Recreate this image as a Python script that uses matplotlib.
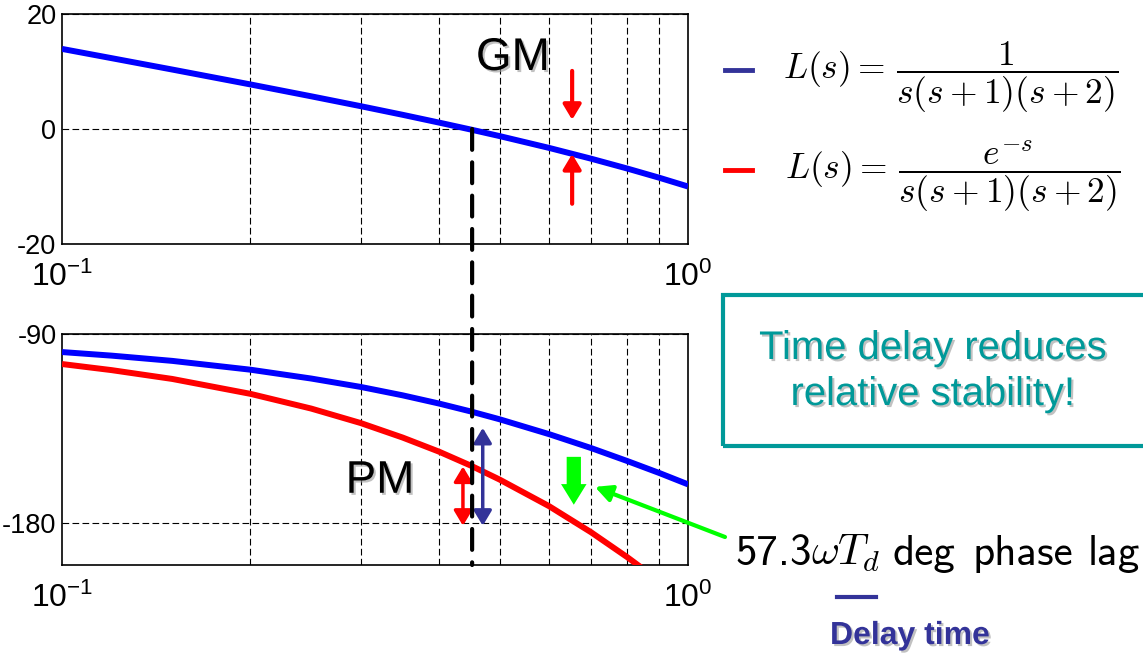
import numpy as np
import matplotlib
matplotlib.use('Agg')
import matplotlib.pyplot as plt
import matplotlib.patheffects as pe
from matplotlib.patches import ConnectionPatch, Rectangle
from matplotlib.lines import Line2D
from matplotlib.ticker import FixedLocator, FixedFormatter, NullFormatter

plt.rcParams['font.family'] = ['Liberation Sans', 'DejaVu Sans']
plt.rcParams['mathtext.fontset'] = 'custom'
plt.rcParams['mathtext.rm'] = 'Liberation Sans'
plt.rcParams['mathtext.it'] = 'Liberation Sans:italic'
plt.rcParams['mathtext.bf'] = 'Liberation Sans:bold'

# ---------------- data ----------------
freq = [0.1, 0.12, 0.15, 0.2, 0.25, 0.3, 0.35, 0.4, 0.45, 0.5, 0.6, 0.7, 0.8, 0.9, 1.0]
mag_db = [13.93, 12.32, 10.34, 7.75, 5.69, 3.97, 2.47, 1.12, -0.10, -1.23,
          -3.29, -5.16, -6.88, -8.48, -10.0]
phase_nodelay = [-98.6, -100.3, -102.8, -107.0, -111.2, -115.2, -119.2, -123.1,
                 -126.9, -130.6, -137.7, -144.3, -150.5, -156.2, -161.6]
freq_delay = [0.1, 0.12, 0.15, 0.2, 0.25, 0.3, 0.35, 0.4, 0.45, 0.5, 0.6, 0.7, 0.8, 0.85, 0.9]
phase_delay = [-104.3, -107.2, -111.4, -118.5, -125.5, -132.4, -139.3, -146.0,
               -152.7, -159.3, -172.0, -184.4, -196.3, -202.1, -207.8]

xticks = [0.1, 1.0]
xticklabels = [r'$10^{-1}$', r'$10^{0}$']
minor_grid = [0.2, 0.3, 0.4, 0.5, 0.6, 0.7, 0.8, 0.9]
mag_ticks = [-20, 0, 20]
phase_ticks = [-180, -90]

w_gc = 0.452          # gain crossover frequency
w_pc = 0.653          # phase crossover (delayed system)
gm_down = (10.1, 1.6)
gm_up = (-13.0, -4.35)
pm_red_w, pm_red = 0.437, (-153.1, -181.3)
pm_blue_w, pm_blue = 0.470, (-134.7, -181.3)
lag_w, lag = 0.657, (-148.5, -171.3)
lag_ptr = (0.710, -162.8)
gm_label = (0.525, 12.35)
pm_label = (0.322, -159.9)

BLUE = '#0000ff'
RED = '#ff0000'
NAVY = '#333399'
TEAL = '#009999'
GREEN = '#00ff00'

W, H = 1143, 656
def fx(x): return x / W
def fy(y): return 1 - y / H

fig = plt.figure(figsize=(W / 100, H / 100), dpi=100)
ax1 = fig.add_axes([fx(62), fy(244), fx(688) - fx(62), fy(14) - fy(244)])
ax2 = fig.add_axes([fx(62), fy(565), fx(688) - fx(62), fy(334) - fy(565)])

for ax in (ax1, ax2):
    ax.set_xscale('log')
    ax.set_xlim(0.1, 1.0)
    ax.xaxis.set_major_locator(FixedLocator(xticks))
    ax.xaxis.set_major_formatter(FixedFormatter(xticklabels))
    ax.xaxis.set_minor_locator(FixedLocator(minor_grid))
    ax.xaxis.set_minor_formatter(NullFormatter())
    ax.tick_params(which='both', length=0)
    ax.tick_params(axis='x', pad=13, labelsize=23)
    ax.tick_params(axis='y', pad=4, labelsize=19.5)
    ax.grid(True, which='minor', axis='x', color='black', ls=(0, (6, 3)), lw=0.8)
    ax.grid(True, which='major', axis='y', color='black', ls=(0, (6, 3)), lw=0.8)
    for s in ax.spines.values():
        s.set_linewidth(1.2)

ax1.set_ylim(-20, 20)
ax1.set_yticks(mag_ticks)
ax1.set_yticklabels([str(t) for t in mag_ticks])
ax1.plot(freq, mag_db, color=BLUE, lw=4.3, solid_capstyle='butt', zorder=3)

ax2.set_ylim(-200, -90)
ax2.set_yticks(phase_ticks)
ax2.set_yticklabels([str(t) for t in phase_ticks])
ax2.plot(freq_delay, phase_delay, color=RED, lw=4.3, solid_capstyle='butt', zorder=3)
ax2.plot(freq, phase_nodelay, color=BLUE, lw=4.3, solid_capstyle='butt', zorder=3)

# crossover dashed line
con = ConnectionPatch(xyA=(w_gc, 0), coordsA=ax1.transData,
                      xyB=(w_gc, -200), coordsB=ax2.transData,
                      color='black', lw=3, linestyle=(0, (5, 3)), zorder=5)
fig.add_artist(con)

shadow = [pe.SimplePatchShadow(offset=(1.5, -1.5), shadow_rgbFace='#999999', alpha=0.6), pe.Normal()]

# GM annotation
ax1.text(*gm_label, 'GM', fontsize=33, ha='center', va='center', path_effects=shadow)
arrow_kw = dict(arrowstyle='-|>,head_length=0.45,head_width=0.27', color=RED, lw=3,
                mutation_scale=20, shrinkA=0, shrinkB=0)
ax1.annotate('', xy=(w_pc, gm_down[1]), xytext=(w_pc, gm_down[0]), arrowprops=arrow_kw)
ax1.annotate('', xy=(w_pc, gm_up[1]), xytext=(w_pc, gm_up[0]), arrowprops=arrow_kw)

# PM annotation
ax2.text(*pm_label, 'PM', fontsize=33, ha='center', va='center', path_effects=shadow)
dbl = dict(arrowstyle='<|-|>,head_length=0.45,head_width=0.27', lw=2.5,
           mutation_scale=20, shrinkA=0, shrinkB=0)
ax2.annotate('', xy=(pm_red_w, pm_red[1]), xytext=(pm_red_w, pm_red[0]),
             arrowprops=dict(dbl, color=RED))
ax2.annotate('', xy=(pm_blue_w, pm_blue[1]), xytext=(pm_blue_w, pm_blue[0]),
             arrowprops=dict(dbl, color=NAVY))

# phase lag arrows
ax2.annotate('', xy=(lag_w, lag[1]), xytext=(lag_w, lag[0]),
             arrowprops=dict(arrowstyle='simple,head_length=0.55,head_width=0.68,tail_width=0.38',
                             color=GREEN, mutation_scale=27, shrinkA=0, shrinkB=0, lw=0))
ax2.annotate('', xy=lag_ptr, xytext=(725, H - 537), textcoords='figure pixels',
             arrowprops=dict(arrowstyle='-|>,head_length=0.5,head_width=0.25', color=GREEN,
                             lw=3, mutation_scale=20, shrinkA=0, shrinkB=0),
             annotation_clip=False)

# legend
fig.add_artist(Line2D([fx(725), fx(752)], [fy(70), fy(70)], color=NAVY, lw=3.5))
fig.add_artist(Line2D([fx(725), fx(752)], [fy(170), fy(170)], color=RED, lw=3.5))
fig.text(fx(783), fy(77), r'$L(s) =\,\dfrac{1}{s(s+1)(s+2)}$', fontsize=25.5,
         math_fontfamily='cm', ha='left', va='center')
fig.text(fx(785), fy(176), r'$L(s) =\,\dfrac{e^{-s}}{s(s+1)(s+2)}$', fontsize=25.5,
         math_fontfamily='cm', ha='left', va='center')

# teal box
fig.add_artist(Rectangle((fx(723), fy(446)), (1170 - 723) / W, (446 - 295) / H,
                         transform=fig.transFigure, fill=False, ec=TEAL, lw=3))
fig.text(fx(933), fy(348), 'Time delay reduces', fontsize=28.8, color=TEAL,
         ha='center', va='center', path_effects=shadow)
fig.text(fx(933), fy(394), 'relative stability!', fontsize=28.8, color=TEAL,
         ha='center', va='center', path_effects=shadow)

# phase lag text (Computer Modern sans words + CM math)
base = fy(565)
fig.text(fx(735), base, '57.3', fontsize=31, family='cmss10', ha='left', va='baseline')
fig.text(fx(811), base, r'$\omega T_d$', fontsize=31, math_fontfamily='cm',
         ha='left', va='baseline')
fig.text(fx(893), base, 'deg', fontsize=31, family='cmss10', ha='left', va='baseline')
fig.text(fx(973), base, 'phase', fontsize=31, family='cmss10', ha='left', va='baseline')
fig.text(fx(1088), base, 'lag', fontsize=31, family='cmss10', ha='left', va='baseline')
fig.add_artist(Line2D([fx(837), fx(876)], [fy(597), fy(597)], color=NAVY, lw=3))
fig.text(fx(910), fy(636), 'Delay time', fontsize=23, color=NAVY, fontweight='bold',
         ha='center', va='center', path_effects=shadow)

fig.savefig('out.png', dpi=100)
